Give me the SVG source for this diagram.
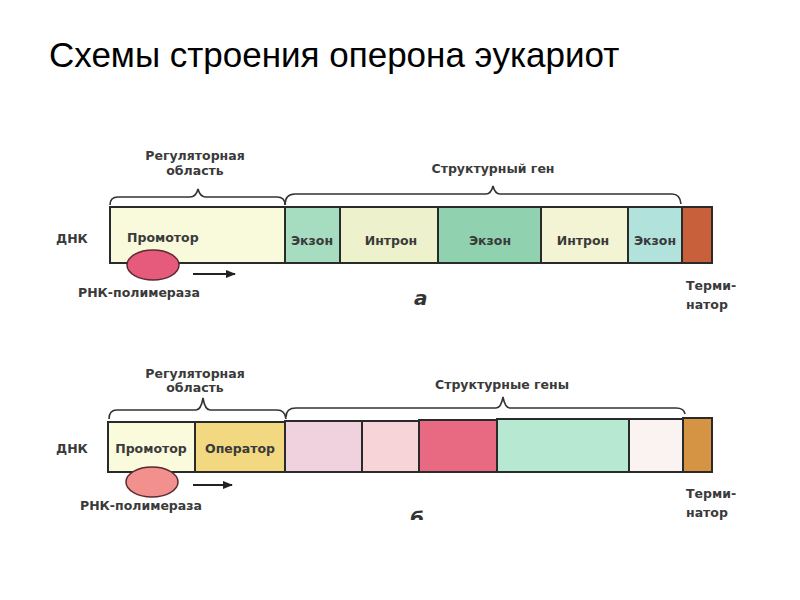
<svg xmlns="http://www.w3.org/2000/svg" width="800" height="600" viewBox="0 0 800 600">
<style>
.title{font-family:"Liberation Sans",Arial,sans-serif;font-size:35px;fill:#000}
.lbl{font-family:"DejaVu Sans",sans-serif;font-size:12.5px;font-weight:bold;fill:#3a3a3a}
.box{stroke:#2a2a2a;stroke-width:2}
.brace{fill:none;stroke:#333;stroke-width:1.6}
.it{font-family:"DejaVu Sans",sans-serif;font-style:italic;font-weight:bold;font-size:20px;fill:#333}
.ell{stroke:#5a2a30;stroke-width:1.5}
</style>
<defs>
<marker id="ah" viewBox="0 0 10 10" refX="9" refY="5" markerWidth="5" markerHeight="5" orient="auto"><path d="M0,1 L10,5 L0,9 z" fill="#222"/></marker>
<clipPath id="cut"><rect x="0" y="0" width="800" height="520"/></clipPath>
</defs>
<rect width="800" height="600" fill="#fff"/>
<text class="title" x="49" y="67">Схемы строения оперона эукариот</text>

<g id="diagram-a">
<g id="reg-a"><rect class="box" x="110" y="207" width="175" height="56" fill="#f9f9dc"/><text class="lbl" x="127" y="242">Промотор</text></g>
<g id="exon1-a"><rect class="box" x="285" y="207" width="55" height="56" fill="#a6dcc0"/><text class="lbl" x="312" y="245" text-anchor="middle">Экзон</text></g>
<g id="intron1-a"><rect class="box" x="340" y="207" width="98" height="56" fill="#eef2cc"/><text class="lbl" x="391" y="245" text-anchor="middle">Интрон</text></g>
<g id="exon2-a"><rect class="box" x="438" y="207" width="103" height="56" fill="#90d2b0"/><text class="lbl" x="490" y="245" text-anchor="middle">Экзон</text></g>
<g id="intron2-a"><rect class="box" x="541" y="207" width="87" height="56" fill="#f2f4d4"/><text class="lbl" x="583" y="245" text-anchor="middle">Интрон</text></g>
<g id="exon3-a"><rect class="box" x="628" y="207" width="54" height="56" fill="#b2e2dc"/><text class="lbl" x="655" y="245" text-anchor="middle">Экзон</text></g>
<g id="term-a"><rect class="box" x="682" y="207" width="30" height="56" fill="#c8603c"/></g>
<g id="dnk-a"><text class="lbl" x="56" y="243">ДНК</text></g>
<g id="pol-a"><ellipse class="ell" cx="153" cy="265" rx="26" ry="15" fill="#e65a7c"/><text class="lbl" x="78" y="297">РНК-полимераза</text></g>
<g id="brace-reg-a"><path class="brace" d="M110,205 Q110,197 118,197 L190,197 Q196,197 198,189 Q200,197 206,197 L277,197 Q285,197 285,205"/><text class="lbl" x="195" y="160" text-anchor="middle">Регуляторная</text><text class="lbl" x="195" y="175" text-anchor="middle">область</text></g>
<g id="brace-str-a"><path class="brace" d="M285,205 Q285,194 295,194 L486,194 Q491,194 493,186 Q495,194 500,194 L672,194 Q680,194 681,204"/><text class="lbl" x="493" y="173" text-anchor="middle">Структурный ген</text></g>
<g id="term-label-a"><text class="lbl" x="686" y="290">Терми-</text><text class="lbl" x="686" y="309">натор</text></g>
<text class="it" x="414" y="305">а</text>
</g>

<g id="diagram-b">
<g id="prom-b"><rect class="box" x="108" y="422" width="87" height="50" fill="#fafadc"/><text class="lbl" x="151" y="453" text-anchor="middle">Промотор</text></g>
<g id="oper-b"><rect class="box" x="195" y="422" width="90" height="50" fill="#f2d880"/><text class="lbl" x="240" y="453" text-anchor="middle">Оператор</text></g>
<g id="gene1-b"><rect class="box" x="285" y="421" width="77" height="51" fill="#f0d2de"/></g>
<g id="gene2-b"><rect class="box" x="362" y="421" width="57" height="51" fill="#f6d4d8"/></g>
<g id="gene3-b"><rect class="box" x="419" y="420" width="78" height="52" fill="#e86a82"/></g>
<g id="gene4-b"><rect class="box" x="497" y="419" width="132" height="53" fill="#b6e8d2"/></g>
<g id="gene5-b"><rect class="box" x="629" y="419" width="54" height="53" fill="#fbf2f2"/></g>
<g id="term-b"><rect class="box" x="683" y="418" width="29" height="54" fill="#d49444"/></g>
<g id="dnk-b"><text class="lbl" x="56" y="453">ДНК</text></g>
<g id="pol-b"><ellipse class="ell" cx="152" cy="482" rx="26" ry="15" fill="#f2908e"/><text class="lbl" x="80" y="510">РНК-полимераза</text></g>
<g id="brace-reg-b"><path class="brace" d="M109,419 Q109,410 117,410 L196,410 Q201,410 203,398 Q205,410 210,410 L277,410 Q285,410 286,419"/><text class="lbl" x="195" y="378" text-anchor="middle">Регуляторная</text><text class="lbl" x="195" y="392" text-anchor="middle">область</text></g>
<g id="brace-str-b"><path class="brace" d="M286,417 Q286,408 296,408 L496,408 Q501,408 503,397 Q505,408 510,408 L676,408 Q684,408 685,414"/><text class="lbl" x="502" y="389" text-anchor="middle">Структурные гены</text></g>
<g id="term-label-b"><text class="lbl" x="686" y="498">Терми-</text><text class="lbl" x="686" y="517">натор</text></g>
<text class="it" x="410" y="526" clip-path="url(#cut)">б</text>
</g>

<g id="connectors">
<line x1="193" y1="274" x2="235" y2="274" stroke="#222" stroke-width="2" marker-end="url(#ah)"/>
<line x1="193" y1="485" x2="232" y2="485" stroke="#222" stroke-width="2" marker-end="url(#ah)"/>
</g>
</svg>
